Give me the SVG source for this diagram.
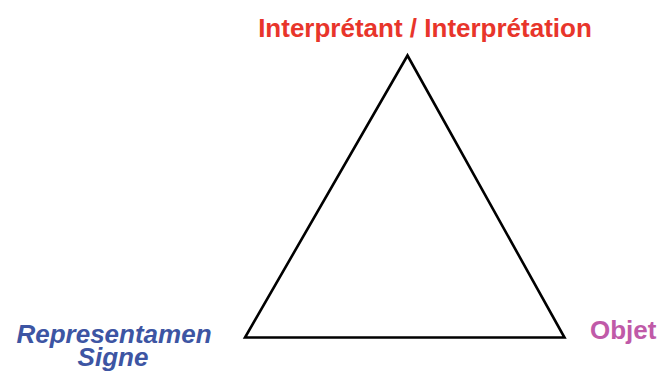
<svg xmlns="http://www.w3.org/2000/svg" width="660" height="374" viewBox="0 0 660 374">
<style>
.lbl{font-family:"Liberation Sans",Arial,sans-serif;font-weight:bold;font-size:26px}
</style>
<rect width="660" height="374" fill="#ffffff"/>
<g id="connectors">
<polygon points="407.5,55.5 245,337.5 564.5,337.5" fill="none" stroke="#000000" stroke-width="2.6" stroke-linejoin="miter"/>
</g>
<g id="interpretant">
<text class="lbl" x="425" y="37" text-anchor="middle" fill="#e8352b">Interprétant / Interprétation</text>
</g>
<g id="representamen">
<text class="lbl" text-anchor="middle" fill="#3d55a3" font-style="italic"><tspan x="114" y="343">Representamen</tspan><tspan x="113" y="366">Signe</tspan></text>
</g>
<g id="objet">
<text class="lbl" x="590" y="339" fill="#c05aa8">Objet</text>
</g>
</svg>
